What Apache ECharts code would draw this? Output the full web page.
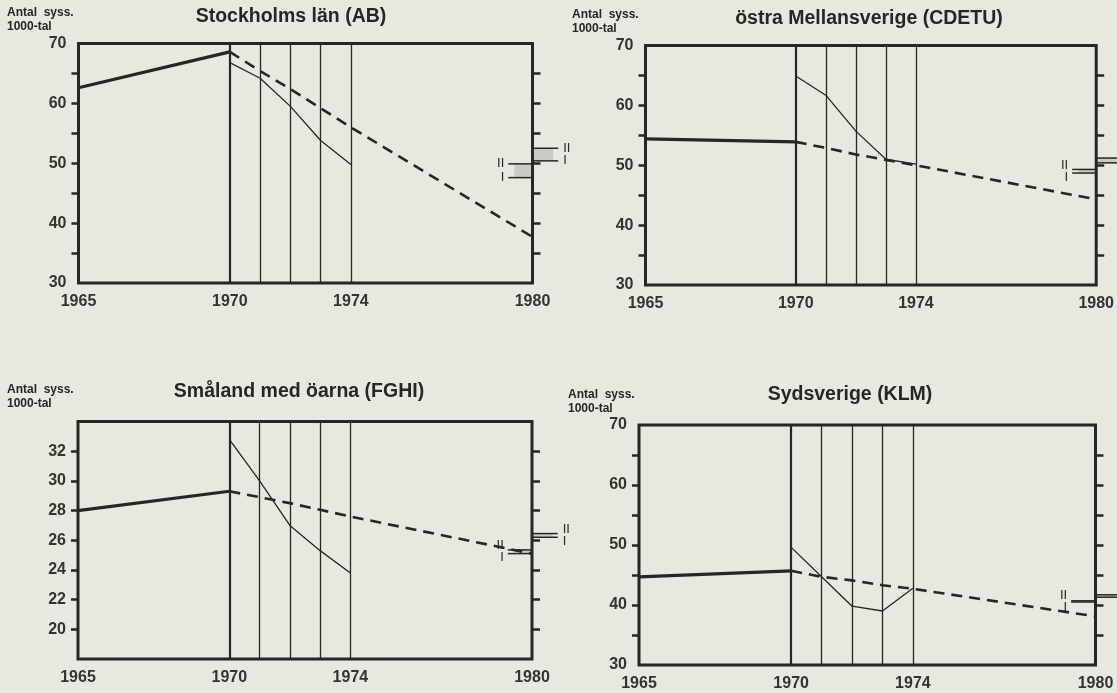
<!DOCTYPE html>
<html>
<head>
<meta charset="utf-8">
<title>Antal sysselsatta 1965-1980</title>
<script src="https://cdn.jsdelivr.net/npm/echarts@6/dist/echarts.min.js"></script>
<style>
  html, body { margin: 0; padding: 0; background: #e8e7e0; }
  #chart { width: 1117px; height: 693px; }
</style>
</head>
<body>
<div id="chart"></div>
<script>
// år på x-axeln
var histYears = [1965, 1970];
var trendYears = [1970, 1971, 1972, 1973, 1974, 1980];
var annualYears = [1970, 1971, 1972, 1973, 1974];
var gridYears = [1970, 1971, 1972, 1973, 1974];
var xLabelYears = [1965, 1970, 1974, 1980];

// skalor
var yLabels70 = [30, 40, 50, 60, 70];
var yTicks70 = [35, 40, 45, 50, 55, 60, 65];
var yLabelsFGHI = [20, 22, 24, 26, 28, 30, 32];
var markNames = ['II', 'I'];

// Stockholms län (AB)
var abHist = [62.6, 68.6];
var abTrend = [68.6, 65.4, 62.4, 59.2, 56.0, 37.7];
var abAnnual = [66.8, 64.2, 59.5, 53.8, 49.8];
var abMarkIn = [49.9, 47.6];
var abMarkOut = [52.5, 50.4];

// östra Mellansverige (CDETU)
var cdHist = [54.4, 53.9];
var cdTrend = [53.9, 52.9, 51.8, 50.9, 50.0, 44.3];
var cdAnnual = [64.9, 61.7, 55.7, 51.0, 50.2];
var cdMarkIn = [49.3, 48.7];
var cdMarkOut = [51.2, 50.4];

// Småland med öarna (FGHI)
var fgHist = [28.0, 29.3];
var fgTrend = [29.3, 28.9, 28.5, 28.05, 27.6, 25.1];
var fgAnnual = [32.8, 30.0, 27.0, 25.3, 23.8];
var fgMarkIn = [25.35, 25.1];
var fgMarkOut = [26.45, 26.2];

// Sydsverige (KLM)
var klHist = [44.7, 45.7];
var klTrend = [45.7, 44.7, 44.1, 43.3, 42.7, 38.1];
var klAnnual = [49.6, 44.7, 39.8, 39.0, 42.8];
var klMarkIn = [40.7, 40.5];
var klMarkOut = [41.7, 41.3];

var ink = '#262626';
var font = '"Liberation Sans", Arial, sans-serif';

var regions = [
  { title: 'Stockholms län (AB)', hist: abHist, trend: abTrend, annual: abAnnual, markIn: abMarkIn, markOut: abMarkOut,
    yMin: 30, yMax: 70, yLabels: yLabels70, yTicks: yTicks70 },
  { title: 'östra Mellansverige (CDETU)', hist: cdHist, trend: cdTrend, annual: cdAnnual, markIn: cdMarkIn, markOut: cdMarkOut,
    yMin: 30, yMax: 70, yLabels: yLabels70, yTicks: yTicks70 },
  { title: 'Småland med öarna (FGHI)', hist: fgHist, trend: fgTrend, annual: fgAnnual, markIn: fgMarkIn, markOut: fgMarkOut,
    yMin: 18, yMax: 34, yLabels: yLabelsFGHI, yTicks: yLabelsFGHI },
  { title: 'Sydsverige (KLM)', hist: klHist, trend: klTrend, annual: klAnnual, markIn: klMarkIn, markOut: klMarkOut,
    yMin: 30, yMax: 70, yLabels: yLabels70, yTicks: yTicks70 }
];

// placering av diagrammen
var layouts = [
  { left: 78.5, top: 43.5, width: 454, height: 239.5, titleX: 291, titleY: 17, noteX: 7, noteY: 6 },
  { left: 645.5, top: 45.5, width: 451, height: 239.5, titleX: 869, titleY: 19, noteX: 572, noteY: 8 },
  { left: 78, top: 421.5, width: 454, height: 237.5, titleX: 299, titleY: 392, noteX: 7, noteY: 383 },
  { left: 639, top: 425, width: 456.5, height: 240, titleX: 850, titleY: 395, noteX: 568, noteY: 388 }
];
var markInX = [1979.2, 1980];
var markOutX = [1980, 1980.85];

function zip(xs, ys) {
  return xs.map(function (x, i) { return [x, ys[i]]; });
}

// II / I-markeringar vid högerkanten
function renderMarks(params, api) {
  var x0 = api.value(0), x1 = api.value(1), side = api.value(4);
  var a = api.coord([x0, api.value(2)]), b = api.coord([x1, api.value(2)]);
  var c = api.coord([x0, api.value(3)]), d = api.coord([x1, api.value(3)]);
  var w = b[0] - a[0];
  var sx0 = side === 0 ? a[0] + w * 0.25 : a[0];
  var sx1 = side === 0 ? b[0] : a[0] + w * 0.8;
  var mid = (a[1] + c[1]) / 2;
  var txtStyle = function (t) {
    return { text: t, fill: ink, font: '13px ' + font,
             align: side === 0 ? 'right' : 'left', verticalAlign: 'middle' };
  };
  var tx = side === 0 ? a[0] - 4 : b[0] + 5;
  return {
    type: 'group',
    children: [
      { type: 'rect', shape: { x: sx0, y: Math.min(a[1], c[1]), width: sx1 - sx0, height: Math.abs(c[1] - a[1]) },
        style: { fill: 'rgba(60,60,60,0.17)' } },
      { type: 'line', shape: { x1: a[0], y1: a[1], x2: b[0], y2: b[1] }, style: { stroke: ink, lineWidth: 1.5 } },
      { type: 'line', shape: { x1: c[0], y1: c[1], x2: d[0], y2: d[1] }, style: { stroke: ink, lineWidth: 1.5 } },
      { type: 'text', x: tx, y: Math.min(a[1], mid - 6), style: txtStyle(markNames[0]) },
      { type: 'text', x: tx, y: Math.max(c[1], mid + 6), style: txtStyle(markNames[1]) }
    ]
  };
}

var grids = [], xAxes = [], yAxes = [], series = [], graphics = [];
var tickText = { color: '#333', fontFamily: font, fontSize: 16, fontWeight: 'bold' };

regions.forEach(function (r, i) {
  var L = layouts[i];
  grids.push({
    left: L.left, top: L.top, width: L.width, height: L.height,
    show: true, borderColor: ink, borderWidth: 3, backgroundColor: 'transparent'
  });
  xAxes.push({
    gridIndex: i, type: 'value', min: 1965, max: 1980,
    axisLine: { show: false }, axisTick: { show: false }, splitLine: { show: false },
    axisLabel: Object.assign({ customValues: xLabelYears, margin: 11,
                 formatter: function (v) { return String(v); } }, tickText)
  });
  // vänster axel med etiketter
  yAxes.push({
    gridIndex: i, type: 'value', min: r.yMin, max: r.yMax, position: 'left',
    axisLine: { show: false }, splitLine: { show: false },
    axisTick: { show: true, customValues: r.yTicks, length: 7, lineStyle: { color: ink, width: 2.5 } },
    axisLabel: Object.assign({ customValues: r.yLabels, margin: 12 }, tickText)
  });
  // höger axel, bara streck
  yAxes.push({
    gridIndex: i, type: 'value', min: r.yMin, max: r.yMax, position: 'right',
    axisLine: { show: false }, splitLine: { show: false }, axisLabel: { show: false },
    axisTick: { show: true, customValues: r.yTicks, length: 8, lineStyle: { color: ink, width: 2.5 } }
  });

  var yi = i * 2;
  series.push({
    type: 'line', xAxisIndex: i, yAxisIndex: yi, data: zip(histYears, r.hist),
    symbol: 'none', lineStyle: { color: ink, width: 3.2 },
    markLine: {
      silent: true, symbol: 'none', label: { show: false },
      lineStyle: { type: 'solid', color: ink, width: 1.3 },
      data: gridYears.map(function (y, k) {
        return k === 0 ? { xAxis: y, lineStyle: { width: 2.2 } } : { xAxis: y };
      })
    }
  });
  series.push({
    type: 'line', xAxisIndex: i, yAxisIndex: yi, data: zip(trendYears, r.trend),
    symbol: 'none', lineStyle: { color: ink, width: 2.6, type: [11, 7] }
  });
  series.push({
    type: 'line', xAxisIndex: i, yAxisIndex: yi, data: zip(annualYears, r.annual),
    symbol: 'none', lineStyle: { color: ink, width: 1.3 }
  });
  series.push({
    type: 'custom', xAxisIndex: i, yAxisIndex: yi, silent: true, clip: false,
    data: [
      [markInX[0], markInX[1], r.markIn[0], r.markIn[1], 0],
      [markOutX[0], markOutX[1], r.markOut[0], r.markOut[1], 1]
    ],
    renderItem: renderMarks
  });

  graphics.push({
    type: 'text', x: L.titleX, y: L.titleY,
    style: { text: r.title, fill: ink, font: 'bold 19.5px ' + font, textAlign: 'center', textVerticalAlign: 'middle' }
  });
  graphics.push({
    type: 'text', x: L.noteX, y: L.noteY,
    style: { text: 'Antal  syss.\n1000-tal', fill: ink, font: 'bold 12px ' + font, lineHeight: 14,
             textAlign: 'left', textVerticalAlign: 'top' }
  });
});

var chart = echarts.init(document.getElementById('chart'), null, { renderer: 'canvas' });
chart.setOption({
  backgroundColor: '#e8e7e0',
  animation: false,
  grid: grids,
  xAxis: xAxes,
  yAxis: yAxes,
  series: series,
  graphic: graphics
});
</script>
</body>
</html>
